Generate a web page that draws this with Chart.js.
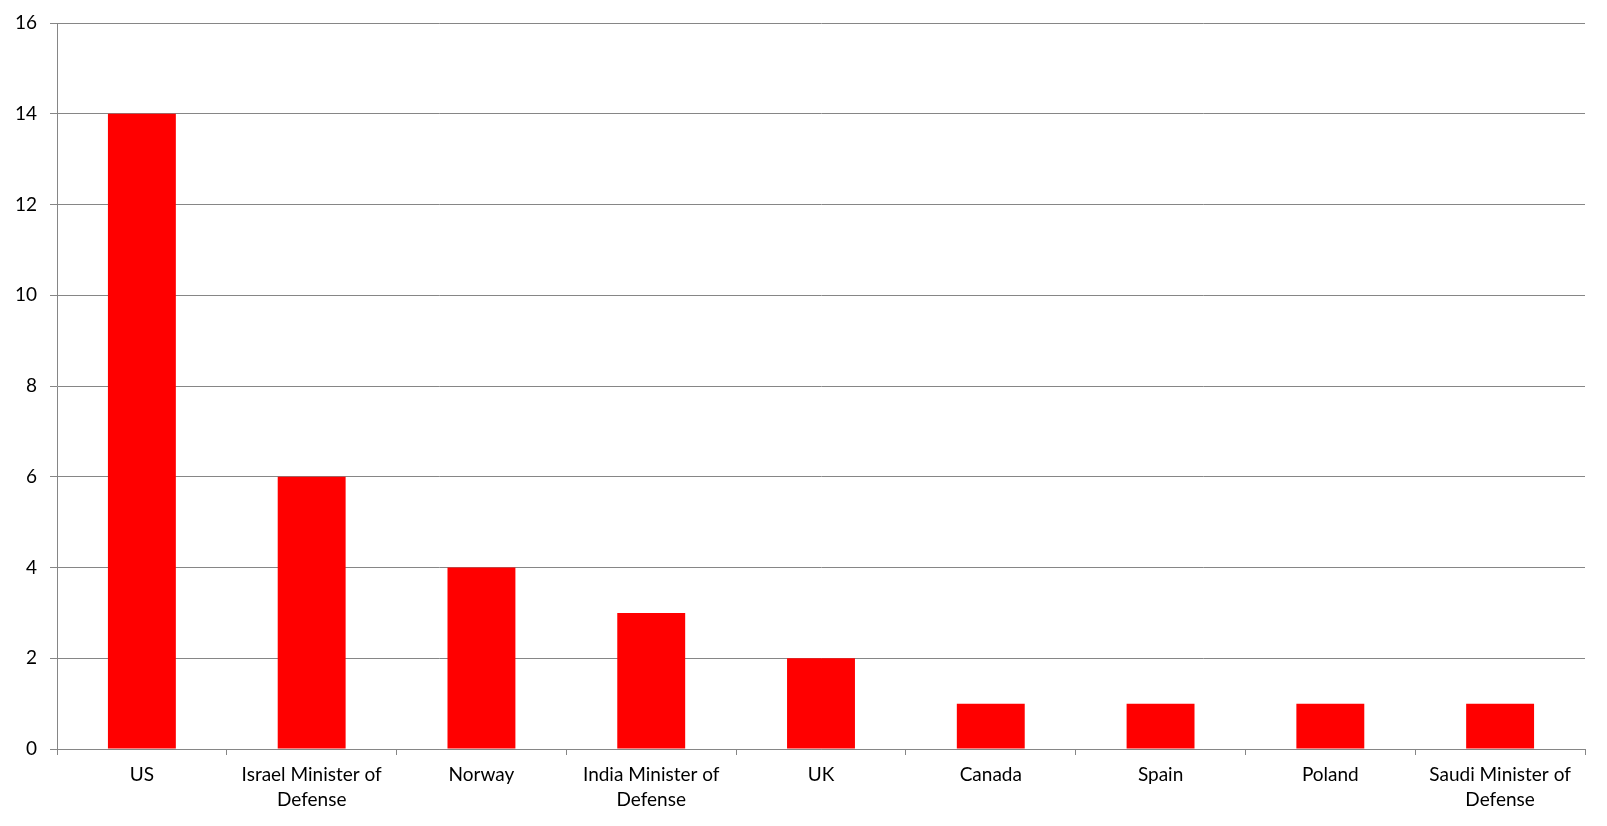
<!DOCTYPE html>
<html>
<head>
<meta charset="utf-8">
<script src="https://cdn.jsdelivr.net/npm/chart.js@4"></script>
<style>
  html, body { margin: 0; padding: 0; background: #fff; }
  #wrap { width: 1607px; height: 826px; }
</style>
</head>
<body>
<div id="wrap"><canvas id="barChart" width="1607" height="826"></canvas></div>
<script>
const CATEGORIES = [
    'US',
    ['Israel Minister of', 'Defense'],
    'Norway',
    ['India Minister of', 'Defense'],
    'UK',
    'Canada',
    'Spain',
    'Poland',
    ['Saudi Minister of', 'Defense']
];
const VALUES = [14, 6, 4, 3, 2, 1, 1, 1, 1];
const Y_TICKS = { min: 0, max: 16, step: 2 };

const gris = '#868686';
const fuente = { family: 'Lato, "Liberation Sans", sans-serif', size: 19 };

const ctx = document.getElementById('barChart').getContext('2d');
new Chart(ctx, {
    type: 'bar',
    data: {
        labels: CATEGORIES,
        datasets: [{
            data: VALUES,
            backgroundColor: '#ff0000',
            borderWidth: 0,
            barPercentage: 0.4,
            categoryPercentage: 1
        }]
    },
    options: {
        responsive: false,
        animation: false,
        layout: { padding: { top: 23, right: 22, left: 0, bottom: 0 } },
        plugins: { legend: { display: false }, tooltip: { enabled: false } },
        scales: {
            y: {
                min: Y_TICKS.min,
                max: Y_TICKS.max,
                ticks: { stepSize: Y_TICKS.step, color: '#000', font: { ...fuente, lineHeight: 0.9 }, padding: 13 },
                grid: { color: gris, tickLength: 7, lineWidth: 1 },
                border: { color: gris },
                afterFit: s => { s.width = 57; }
            },
            x: {
                ticks: { color: '#000', font: { ...fuente, lineHeight: 1.3 }, padding: 8, maxRotation: 0, autoSkip: false },
                grid: { offset: true, drawOnChartArea: false, color: gris, tickLength: 6 },
                border: { color: gris },
                afterFit: s => { s.height = 77; }
            }
        }
    }
});
</script>
</body>
</html>
